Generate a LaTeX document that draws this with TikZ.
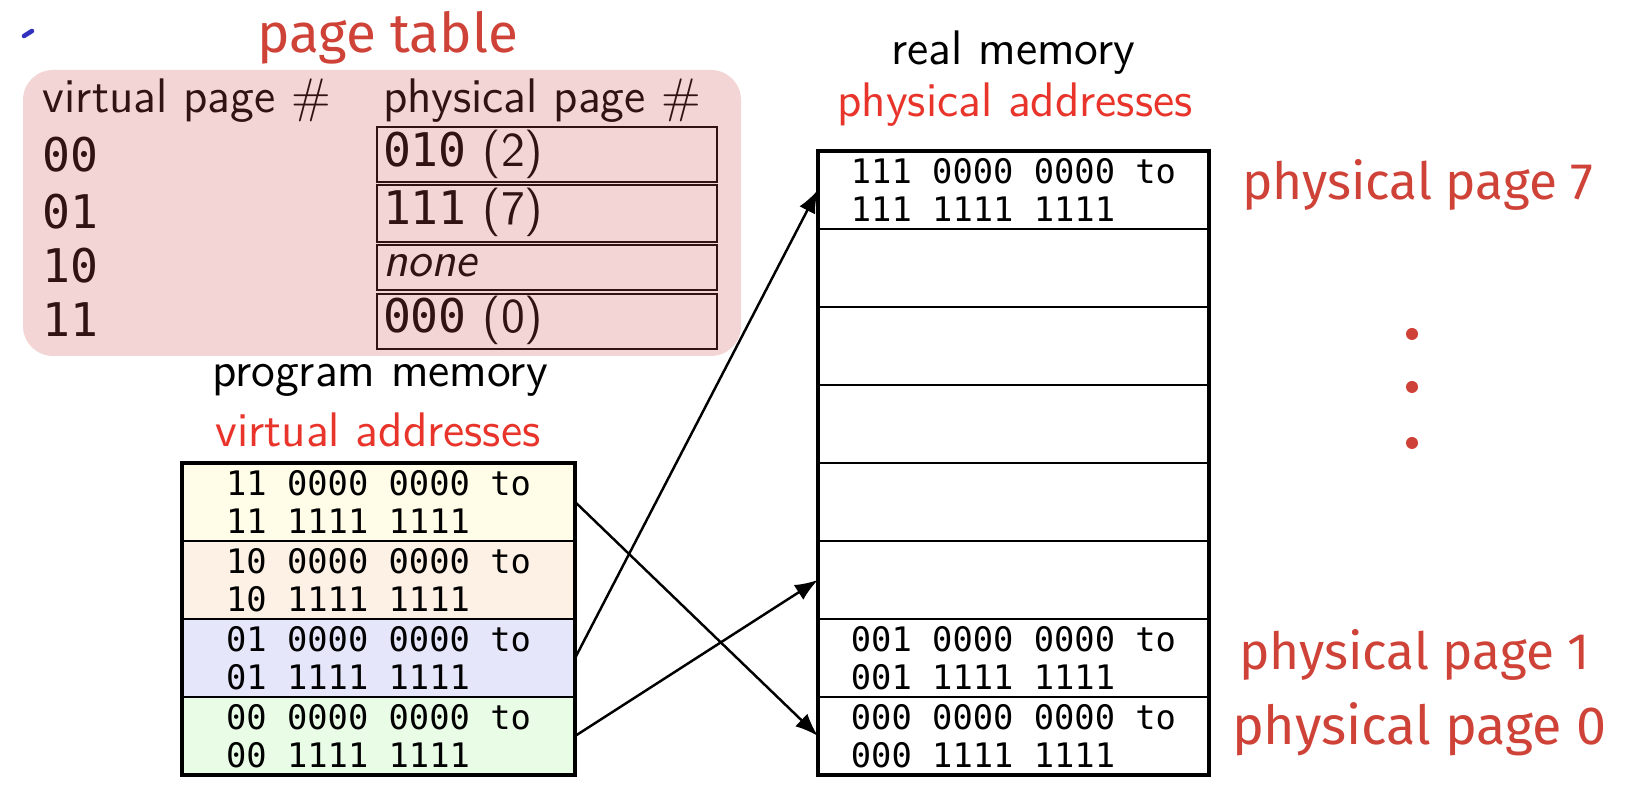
\documentclass[tikz,border=0pt]{standalone}
\usepackage{fontspec}
\newfontfamily\dvm{DejaVu Sans Mono}
\newfontfamily\hand{Fira Sans}
\usetikzlibrary{arrows.meta}
\definecolor{hred}{RGB}{207,66,56}
\definecolor{lred}{RGB}{232,52,42}
\definecolor{rowY}{RGB}{255,252,232}
\definecolor{rowP}{RGB}{253,241,229}
\definecolor{rowB}{RGB}{230,230,250}
\definecolor{rowG}{RGB}{232,252,230}
\definecolor{pinkov}{RGB}{205,80,80}
\definecolor{penblue}{RGB}{50,50,190}
\newcommand{\lbl}{\sffamily\fontsize{13.8pt}{16pt}\selectfont}
\newcommand{\ptmono}{\dvm\fontsize{13.2pt}{15pt}\selectfont}
\newcommand{\hw}{\hand\fontsize{15.6pt}{18pt}\selectfont}
\newcommand{\hws}{\hand\fontsize{14.6pt}{17pt}\selectfont}
\newcommand{\hwm}{\hand\fontsize{15.3pt}{17pt}\selectfont}
\begin{document}
\begin{tikzpicture}[x=0.01cm,y=-0.01cm,
  every node/.style={inner sep=0pt, outer sep=0pt},
  memrow/.style={draw, line width=0.55pt, minimum height=0.78cm,
    align=left, font=\dvm\fontsize{9.6pt}{10.8pt}\selectfont},
  vrow/.style={memrow, minimum width=3.93cm},
  prow/.style={memrow, minimum width=3.91cm},
  outer/.style={line width=1.15pt},
  arr/.style={line width=0.7pt, -{Latex[length=6.5pt,width=5pt]}},
  txt/.style={anchor=base west},
  ctxt/.style={anchor=base, font=\lbl},
  hand/.style={anchor=base west, font=\hw, text=hred},
  pbox/.style={draw, line width=0.7pt, minimum width=3.40cm, anchor=north west}]
\useasboundingbox (0,0) rectangle (1626,804);
\fill[white] (0,0) rectangle (1626,804);

% stray pen mark
\draw[penblue, line width=1.3pt, line cap=round] (24,36) -- (32,31);

% page table
\node[hand] (pttitle) at (257,53) {page table};
\node[txt, font=\lbl] (vhead) at (43,113) {virtual page \#};
\node[txt, font=\lbl] (phead) at (383,113) {physical page \#};
\node[txt, font=\ptmono] (r00) at (43,172) {00};
\node[txt, font=\ptmono] (r01) at (43,229) {01};
\node[txt, font=\ptmono] (r10) at (43,283) {10};
\node[txt, font=\ptmono] (r11) at (43,337) {11};
\node[pbox, minimum height=0.55cm] (b0) at (377,127) {};
\node[pbox, minimum height=0.57cm] (b1) at (377,185) {};
\node[pbox, minimum height=0.45cm] (b2) at (377,245) {};
\node[pbox, minimum height=0.55cm] (b3) at (377,294) {};
\node[txt, font=\lbl] (t0) at (383,167) {{\ptmono 010} (2)};
\node[txt, font=\lbl] (t1) at (383,225) {{\ptmono 111} (7)};
\node[txt, font=\lbl] (t2) at (383,277) {\itshape none};
\node[txt, font=\lbl] (t3) at (383,333) {{\ptmono 000} (0)};
\fill[pinkov, fill opacity=0.24, rounded corners=0.3cm] (23,70) rectangle (741,356);

% program memory
\node[ctxt] (pm) at (380,387) {program memory};
\node[ctxt, text=lred] (va) at (378,447) {virtual addresses};
\node[vrow, fill=rowY] (v11) at (378.5,502) {11 0000 0000 to\\11 1111 1111\phantom{ to}};
\node[vrow, fill=rowP] (v10) at (378.5,580) {10 0000 0000 to\\10 1111 1111\phantom{ to}};
\node[vrow, fill=rowB] (v01) at (378.5,658) {01 0000 0000 to\\01 1111 1111\phantom{ to}};
\node[vrow, fill=rowG] (v00) at (378.5,736) {00 0000 0000 to\\00 1111 1111\phantom{ to}};
\draw[outer] (v11.north west) rectangle (v00.south east);

% real memory
\node[ctxt] (rm) at (1013.5,65) {real memory};
\node[ctxt, text=lred] (pa) at (1015,117) {physical addresses};
\node[prow] (p7) at (1013.5,190) {111 0000 0000 to\\111 1111 1111\phantom{ to}};
\node[prow] (p6) at (1013.5,268) {};
\node[prow] (p5) at (1013.5,346) {};
\node[prow] (p4) at (1013.5,424) {};
\node[prow] (p3) at (1013.5,502) {};
\node[prow] (p2) at (1013.5,580) {};
\node[prow] (p1) at (1013.5,658) {001 0000 0000 to\\001 1111 1111\phantom{ to}};
\node[prow] (p0) at (1013.5,736) {000 0000 0000 to\\000 1111 1111\phantom{ to}};
\draw[outer] (p7.north west) rectangle (p0.south east);

% mappings
\draw[arr] (v01.east) -- (p7.west);
\draw[arr] (v00.east) -- (p2.west);
\draw[arr] (v11.east) -- (p0.west);

% annotations
\node[hand, font=\hws] (pp7) at (1242,200) {physical page 7};
\node[hand, font=\hws] (pp1) at (1239,670) {physical page 1};
\node[hand, font=\hwm] (pp0) at (1232,745) {physical page 0};
\fill[hred] (1412,334) circle[radius=0.06cm];
\fill[hred] (1412,387) circle[radius=0.06cm];
\fill[hred] (1412,443) circle[radius=0.06cm];
\end{tikzpicture}
\end{document}
